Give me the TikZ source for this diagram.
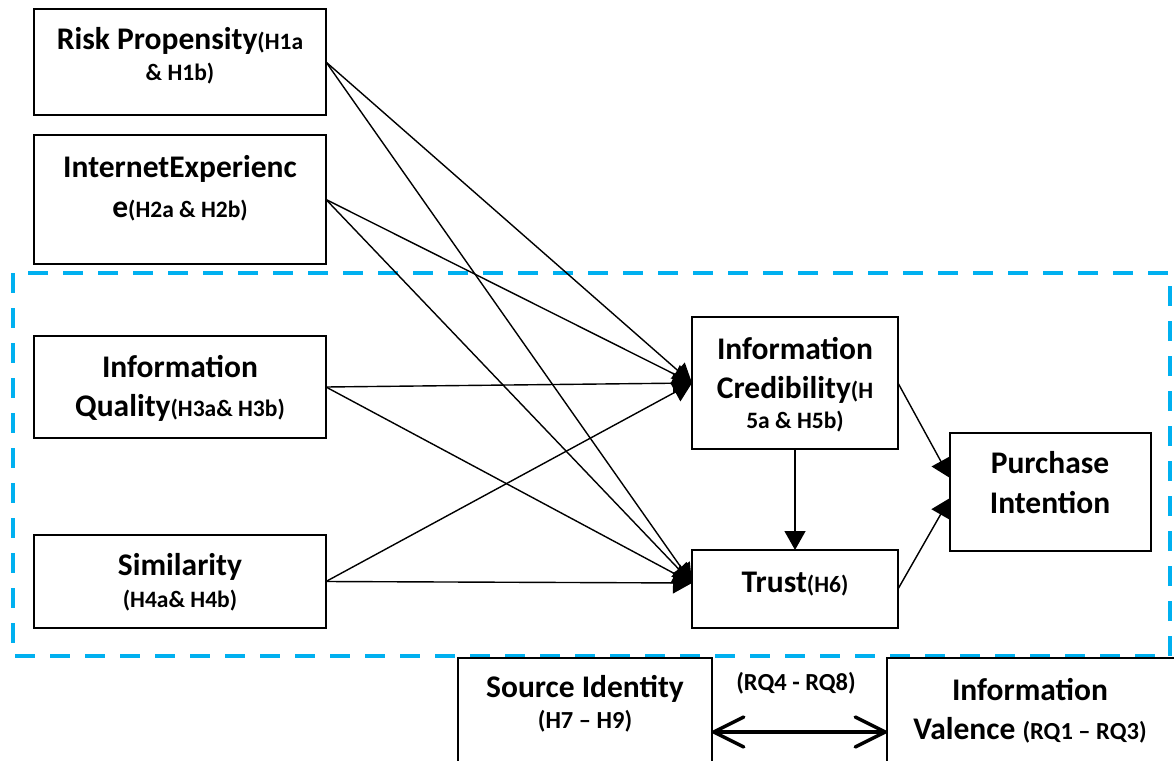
\documentclass[tikz,border=0pt]{standalone}
\usepackage{fontspec}
\setmainfont{Carlito}
\usetikzlibrary{arrows.meta}
\definecolor{dashblue}{HTML}{00B0F0}
\newcommand\hsub[1]{{\fontsize{23.5}{28}\selectfont #1}}
\newcommand\lsub[1]{{\fontsize{24.5}{29}\selectfont #1}}
\begin{document}
\begin{tikzpicture}[x=1pt,y=-1pt,
  box/.style={draw=black,line width=1.6pt,inner sep=0pt,outer sep=0pt},
  txt/.style={anchor=base,inner sep=0pt,font=\fontsize{31.5}{38}\selectfont\bfseries},
  arr/.style={line width=1.4pt,-{Triangle[length=19pt,width=21pt]}},
  dbl/.style={line width=3.5pt,{Straight Barb[round,length=30pt,width=30pt]}-{Straight Barb[round,length=30pt,width=30pt]}},
  dashbox/.style={draw=dashblue,line width=4pt,dash pattern=on 20pt off 15pt}]
\useasboundingbox (0,0) rectangle (1174,760);

% dashed region
\draw[dashbox] (13,273) rectangle (1170,656);

% boxes
\node[box,minimum width=292pt,minimum height=106pt] (risk) at (180,62) {};
\node[box,minimum width=292pt,minimum height=129pt] (inet) at (180,199.5) {};
\node[box,minimum width=292pt,minimum height=102pt] (qual) at (180,387) {};
\node[box,minimum width=292pt,minimum height=93pt] (sim) at (180,581.5) {};
\node[box,minimum width=206pt,minimum height=132pt] (ic) at (795,383) {};
\node[box,minimum width=206pt,minimum height=78pt] (trust) at (795,589) {};
\node[box,minimum width=201pt,minimum height=118pt] (pi) at (1050.5,492) {};
\node[box,minimum width=254pt,minimum height=112pt] (si) at (585,714) {};
\node[box,minimum width=293pt,minimum height=112pt] (iv) at (1033.5,714) {};

% texts
\node[txt] (risk-t1) at (180,50) {Risk Propensity\hsub{(H1a}};
\node[txt] (risk-t2) at (180,81) {\hsub{\& H1b)}};
\node[txt] (inet-t1) at (180,177) {InternetExperienc};
\node[txt] (inet-t2) at (180,217) {e\hsub{(H2a \& H2b)}};
\node[txt] (qual-t1) at (180,377) {Information};
\node[txt] (qual-t2) at (180,416) {Quality\hsub{(H3a\& H3b)}};
\node[txt] (sim-t1) at (180,575) {Similarity};
\node[txt] (sim-t2) at (180,607) {\hsub{(H4a\& H4b)}};
\node[txt] (ic-t1) at (795,359) {Information};
\node[txt] (ic-t2) at (795,398) {Credibility\hsub{(H}};
\node[txt] (ic-t3) at (795,428) {\hsub{5a \& H5b)}};
\node[txt] (trust-t) at (795,592) {Trust\hsub{(H6)}};
\node[txt] (pi-t1) at (1050,473) {Purchase};
\node[txt] (pi-t2) at (1050,513) {Intention};
\node[txt] (si-t1) at (585,697) {Source Identity};
\node[txt] (si-t2) at (585,728) {\lsub{(H7 – H9)}};
\node[txt] (iv-t1) at (1030,700) {Information};
\node[txt] (iv-t2) at (1030,739) {Valence \lsub{(RQ1 – RQ3)}};
\node[txt] (rq-t) at (796,690) {\lsub{(RQ4 - RQ8)}};

% connectors
\foreach \s in {risk,inet,qual,sim}{
  \draw[arr] (\s.east) -- (ic.west);
  \draw[arr] (\s.east) -- ([yshift=6pt]trust.west);
}
\draw[arr] (ic.south) -- (trust.north);
\draw[arr] (ic.east) -- ([yshift=14pt]pi.west);
\draw[arr] (trust.east) -- ([yshift=-6pt]pi.west);
\draw[dbl] ([yshift=-18pt]si.east) -- ([yshift=-18pt]iv.west);
\end{tikzpicture}
\end{document}
